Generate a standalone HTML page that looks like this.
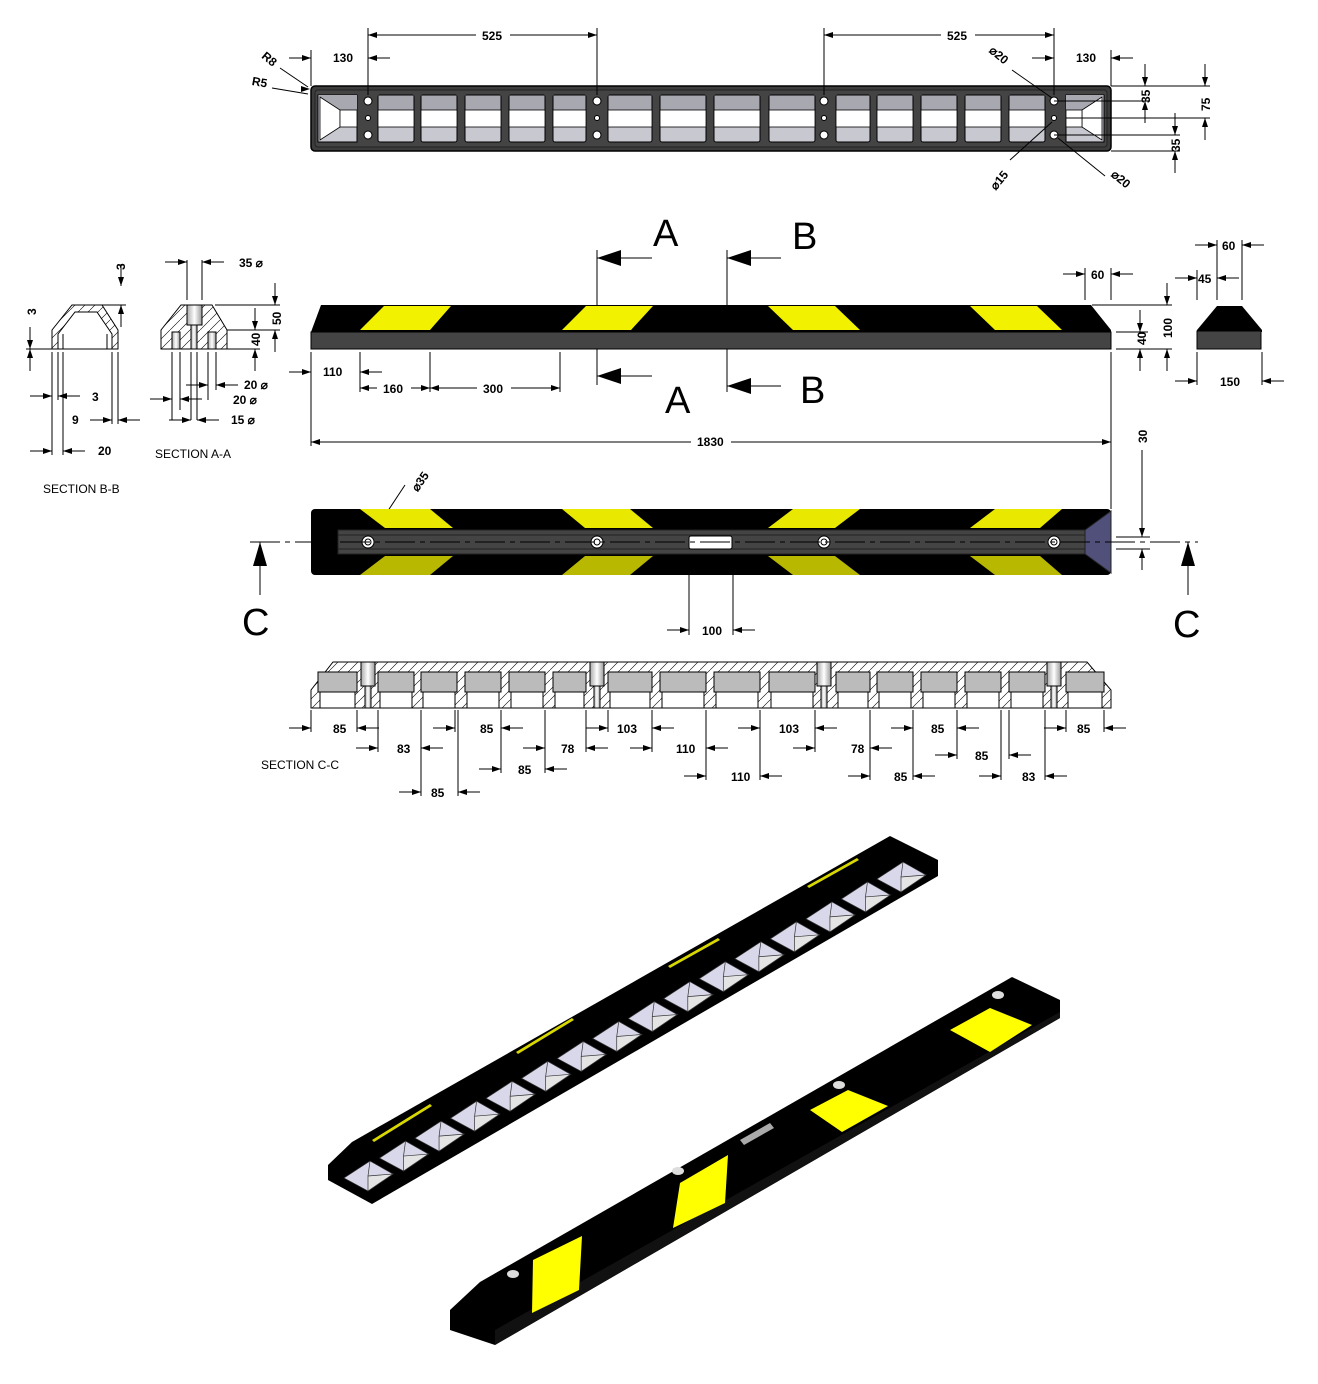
<!DOCTYPE html>
<html><head><meta charset="utf-8"><style>
html,body{margin:0;padding:0;background:#fff}
svg{display:block}
text{font-family:"Liberation Sans",sans-serif;font-size:12px;font-weight:bold;fill:#000}
.big{font-size:38px;font-weight:normal}
.lbl{font-size:12px;font-weight:normal}
</style></head><body>
<svg id="s" width="1318" height="1384" viewBox="0 0 1318 1384" xmlns="http://www.w3.org/2000/svg">
<defs>
<pattern id="hatch" width="10" height="10" patternUnits="userSpaceOnUse"><path d="M0 10 L10 0" stroke="#000" stroke-width="0.6"/></pattern>
<linearGradient id="cyl" x1="0" x2="1"><stop offset="0" stop-color="#aaa"/><stop offset="0.5" stop-color="#fff"/><stop offset="1" stop-color="#999"/></linearGradient>
</defs>

<rect x="311" y="86" width="800" height="65" rx="4" fill="#3c3c3c" stroke="#000" stroke-width="1.5"/>
<rect x="315" y="90" width="792" height="57" rx="3" fill="#444" stroke="#222" stroke-width="1"/>
<g id="topcells"></g>
<polygon points="318,95 357,95 357,142 318,142" fill="#c8c8d0" stroke="#000"/>
<polygon points="318,95 357,95 357,110 340,110" fill="#a8a8b0"/>
<polygon points="320,97 340,110 340,127 320,140" fill="#fff" stroke="#000" stroke-width="0.8"/>
<rect x="340" y="110" width="17" height="17" fill="#fff" stroke="#000" stroke-width="0.8"/>
<polygon points="1066,95 1104,95 1104,142 1066,142" fill="#c8c8d0" stroke="#000"/>
<polygon points="1066,95 1104,95 1082,110 1066,110" fill="#a8a8b0"/>
<polygon points="1102,97 1082,110 1082,127 1102,140" fill="#fff" stroke="#000" stroke-width="0.8"/>
<rect x="1066" y="110" width="16" height="17" fill="#fff" stroke="#000" stroke-width="0.8"/>
<g fill="#fff" stroke="#000" stroke-width="1">
<circle cx="368" cy="101" r="4"/><circle cx="368" cy="118" r="2.5"/><circle cx="368" cy="135" r="4"/>
<circle cx="597" cy="101" r="4"/><circle cx="597" cy="118" r="2.5"/><circle cx="597" cy="135" r="4"/>
<circle cx="824" cy="101" r="4"/><circle cx="824" cy="118" r="2.5"/><circle cx="824" cy="135" r="4"/>
<circle cx="1054" cy="101" r="4"/><circle cx="1054" cy="118" r="2.5"/><circle cx="1054" cy="135" r="4"/>
</g>
<g id="dims" stroke="#000" stroke-width="1" fill="none"></g>
<g id="arrows" fill="#000"></g>

<text x="482" y="40">525</text>
<text x="947" y="40">525</text>
<text x="333" y="62">130</text>
<text x="1076" y="62">130</text>
<text x="262" y="62" transform="rotate(40 268 58)">R8</text>
<text x="252" y="86" transform="rotate(10 258 82)">R5</text>
<text x="986" y="58" transform="rotate(40 996 58)">⌀20</text>
<text x="986" y="186" transform="rotate(-50 996 178)">⌀15</text>
<text x="1108" y="182" transform="rotate(40 1118 182)">⌀20</text>
<text x="1150" y="103" transform="rotate(-90 1150 103)">35</text>
<text x="1210" y="111" transform="rotate(-90 1210 111)">75</text>
<text x="1180" y="152" transform="rotate(-90 1180 152)">35</text>

<polygon points="311,332 321,305 1091,305 1111,330 1111,332" fill="#000"/>
<rect x="311" y="332" width="800" height="17" fill="#444" stroke="#000" stroke-width="1"/>
<g fill="#f2f200">
<polygon points="360,330 384,306 451,306 430,330"/>
<polygon points="562,330 586,306 653,306 631,330"/>
<polygon points="768,306 835,306 860,330 793,330"/>
<polygon points="970,306 1037,306 1062,330 995,330"/>
</g>
<text class="big" x="653" y="246">A</text>
<text class="big" x="792" y="249">B</text>
<text class="big" x="665" y="413">A</text>
<text class="big" x="800" y="403">B</text>
<text x="323" y="376">110</text>
<text x="383" y="393">160</text>
<text x="483" y="393">300</text>
<text x="697" y="446">1830</text>
<text x="1091" y="279">60</text>
<text x="1146" y="345" transform="rotate(-90 1146 345)">40</text>
<text x="1172" y="338" transform="rotate(-90 1172 338)">100</text>

<polygon points="1197,330 1217,306 1242,306 1262,330 1262,332 1197,332" fill="#000"/>
<rect x="1197" y="331" width="64" height="18" fill="#444" stroke="#000"/>
<text x="1222" y="250">60</text>
<text x="1198" y="283">45</text>
<text x="1220" y="386">150</text>

<g stroke="#000" stroke-width="1">
<polygon points="52,330 72,305 102,305 118,330 118,349 52,349" fill="url(#hatch)"/>
<polygon points="58,334 58,349 112,349 112,334 97,312 75,312" fill="#fff"/>
<line x1="63" y1="334" x2="63" y2="349"/><line x1="107" y1="334" x2="107" y2="349"/>
</g>
<text x="125" y="270" transform="rotate(-90 125 270)">3</text>
<text x="36" y="315" transform="rotate(-90 36 315)">3</text>
<text x="92" y="401">3</text>
<text x="72" y="424">9</text>
<text x="98" y="455">20</text>
<text class="lbl" x="43" y="493">SECTION B-B</text>

<g stroke="#000" stroke-width="1">
<polygon points="161,330 181,305 212,305 227,330 227,349 161,349" fill="url(#hatch)"/>
<rect x="187" y="305" width="15" height="20" fill="url(#cyl)"/>
<rect x="191" y="325" width="6" height="24" fill="url(#cyl)"/>
<rect x="172" y="332" width="8" height="17" fill="url(#cyl)"/>
<rect x="208" y="332" width="8" height="17" fill="url(#cyl)"/>
</g>
<text x="239" y="267">35 ⌀</text>
<text x="281" y="325" transform="rotate(-90 281 325)">50</text>
<text x="260" y="346" transform="rotate(-90 260 346)">40</text>
<text x="244" y="389">20 ⌀</text>
<text x="233" y="404">20 ⌀</text>
<text x="231" y="424">15 ⌀</text>
<text class="lbl" x="155" y="458">SECTION A-A</text>

<rect x="311" y="509" width="800" height="66" rx="4" fill="#000"/>
<g fill="#e8e800">
<polygon points="360,509 430,509 453,528 385,528"/>
<polygon points="562,509 630,509 653,528 585,528"/>
<polygon points="793,509 860,509 835,528 768,528"/>
<polygon points="995,509 1062,509 1040,528 970,528"/>
</g>
<g fill="#b8b800">
<polygon points="385,556 453,556 430,575 360,575"/>
<polygon points="585,556 653,556 630,575 562,575"/>
<polygon points="768,556 835,556 860,575 793,575"/>
<polygon points="970,556 1040,556 1062,575 995,575"/>
</g>
<rect x="338" y="530" width="747" height="24" fill="#444" stroke="#222"/>
<line x1="338" y1="535" x2="1085" y2="535" stroke="#222"/>
<line x1="338" y1="549" x2="1085" y2="549" stroke="#222"/>
<polygon points="1085,530 1111,511 1111,573 1085,554" fill="#50507a" stroke="#222"/>
<rect x="689" y="536" width="43" height="13" rx="2" fill="#fff" stroke="#000"/>
<g fill="#fff" stroke="#000"><circle cx="368" cy="542" r="6"/><circle cx="597" cy="542" r="6"/><circle cx="824" cy="542" r="6"/><circle cx="1054" cy="542" r="6"/></g>
<g fill="none" stroke="#000"><circle cx="368" cy="542" r="3"/><circle cx="597" cy="542" r="3"/><circle cx="824" cy="542" r="3"/><circle cx="1054" cy="542" r="3"/></g>
<line x1="250" y1="542" x2="1198" y2="542" stroke="#000" stroke-dasharray="30,5,5,5"/>
<text x="406" y="490" transform="rotate(-55 414 480)">⌀35</text>
<text class="big" x="242" y="635">C</text>
<text class="big" x="1173" y="637">C</text>
<text x="702" y="635">100</text>
<text x="1147" y="443" transform="rotate(-90 1147 443)">30</text>

<polygon points="311,708 311,690 333,662 1087,662 1111,690 1111,708" fill="url(#hatch)" stroke="#000"/>
<g id="cc"></g>
<text class="lbl" x="261" y="769">SECTION C-C</text>
<text x="333" y="733">85</text><text x="480" y="733">85</text><text x="617" y="733">103</text><text x="779" y="733">103</text><text x="931" y="733">85</text><text x="1077" y="733">85</text>
<text x="397" y="753">83</text><text x="561" y="753">78</text><text x="676" y="753">110</text><text x="851" y="753">78</text>
<text x="975" y="760">85</text><text x="518" y="774">85</text>
<text x="731" y="781">110</text><text x="894" y="781">85</text><text x="1022" y="781">83</text>
<text x="431" y="797">85</text>

<polygon points="328,1165 352,1142 890,836 938,860 938,876 372,1204 328,1180" fill="#000"/>
<g id="pyr"></g>
<g fill="#d8d800">
<polygon points="372,1140 430,1104 432,1106 374,1142"/>
<polygon points="516,1052 572,1018 574,1020 518,1054"/>
<polygon points="668,966 718,938 720,940 670,968"/>
<polygon points="807,886 857,858 859,860 809,888"/>
</g>
<polygon points="450,1310 480,1282 1012,977 1060,1000 1060,1018 495,1345 450,1330" fill="#000"/>
<polygon points="495,1330 1060,1012 1060,1018 495,1345" fill="#111"/>
<g fill="#ffff00">
<polygon points="533,1260 582,1236 579,1290 532,1313"/>
<polygon points="680,1183 728,1155 725,1203 673,1228"/>
<polygon points="810,1110 848,1090 888,1106 842,1132"/>
<polygon points="950,1030 990,1008 1032,1025 990,1052"/>
</g>
<polygon points="740,1140 770,1123 774,1128 744,1145" fill="#aaa"/>
<g fill="#ddd"><ellipse cx="513" cy="1274" rx="6" ry="4"/><ellipse cx="678" cy="1171" rx="6" ry="4"/><ellipse cx="839" cy="1085" rx="6" ry="4"/><ellipse cx="998" cy="995" rx="6" ry="4"/></g>
</svg>
<script>
var NS="http://www.w3.org/2000/svg";
function el(p,t,a){var e=document.createElementNS(NS,t);for(var k in a)e.setAttribute(k,a[k]);document.getElementById(p).appendChild(e);return e;}
var cells=[[378,414],[421,457],[465,501],[509,545],[553,586],[608,652],[660,706],[714,760],[769,815],[836,870],[877,913],[921,957],[965,1001],[1009,1045]];
cells.forEach(function(c){var w=c[1]-c[0];
el("topcells","rect",{x:c[0],y:95,width:w,height:47,rx:2,fill:"#c8c8d0",stroke:"#000"});
el("topcells","rect",{x:c[0]+0.5,y:95.5,width:w-1,height:15,fill:"#a8a8b0"});
el("topcells","rect",{x:c[0],y:110,width:w,height:17,fill:"#fff",stroke:"#000","stroke-width":0.8});
});
cells.concat([[318,357],[1066,1104]]).forEach(function(c){var w=c[1]-c[0];
el("cc","rect",{x:c[0],y:672,width:w,height:20,fill:"#bbb",stroke:"#000"});
el("cc","rect",{x:c[0]+2,y:692,width:w-4,height:16,fill:"#fff",stroke:"#000"});
});
[368,597,824,1054].forEach(function(x){
el("cc","rect",{x:x-7,y:662,width:14,height:24,fill:"url(#cyl)",stroke:"#000"});
el("cc","rect",{x:x-3,y:686,width:6,height:22,fill:"url(#cyl)",stroke:"#000"});
});
for(var i=0;i<16;i++){var t=i/15;var cx=372+t*(905-372),cy=1172+t*(873-1172);
el("pyr","polygon",{points:(cx-28)+","+(cy+6)+" "+(cx-2)+","+(cy-11)+" "+(cx+21)+","+(cy+2)+" "+(cx-4)+","+(cy+19),fill:"#d8d8ea",stroke:"#333","stroke-width":0.7});
el("pyr","polygon",{points:(cx-4)+","+(cy+4)+" "+(cx+21)+","+(cy+2)+" "+(cx-4)+","+(cy+19),fill:"#e4e4e4",stroke:"#333","stroke-width":0.7});
el("pyr","line",{x1:cx-2,y1:cy-11,x2:cx-4,y2:cy+4,stroke:"#333","stroke-width":0.7});
}
function L(x1,y1,x2,y2){el("dims","line",{x1:x1,y1:y1,x2:x2,y2:y2});}
function A(x,y,d,s,w){s=s||9;w=w||3;var p;if(d=="l")p=[x,y,x+s,y-w,x+s,y+w];else if(d=="r")p=[x,y,x-s,y-w,x-s,y+w];else if(d=="u")p=[x,y,x-w,y+s,x+w,y+s];else p=[x,y,x-w,y-s,x+w,y-s];el("arrows","polygon",{points:p.join(",")});}
function HD(x1,x2,y,tx,tw){L(x1,y,tx-4,y);L(tx+tw+4,y,x2,y);A(x1,y,"l");A(x2,y,"r");}
function HO(x1,x2,y){L(x1-22,y,x1,y);L(x2,y,x2+22,y);A(x1,y,"r");A(x2,y,"l");}
function VO(x,y1,y2){L(x,y1-22,x,y1);L(x,y2,x,y2+22);A(x,y1,"d");A(x,y2,"u");}
L(368,28,368,95);L(597,28,597,95);HD(368,597,35,480,26);
L(824,28,824,95);L(1054,28,1054,95);HD(824,1054,35,945,26);
L(311,50,311,86);HO(311,368,58);L(1111,50,1111,86);HO(1054,1111,58);
L(1111,86,1210,86);L(1066,118,1210,118);L(1111,151,1180,151);L(1054,101,1150,101);L(1054,135,1180,135);
VO(1145,86,101);VO(1205,86,118);VO(1175,135,151);
L(280,68,308,87);A(310,89,"r");L(272,88,308,94);
L(1012,70,1052,98);L(1010,160,1052,122);L(1105,176,1058,138);
L(597,250,597,385);L(727,250,727,392);
L(597,258,652,258);A(597,258,"l",24,8);L(727,258,781,258);A(727,258,"l",24,8);
L(597,376,652,376);A(597,376,"l",24,8);L(727,386,781,386);A(727,386,"l",24,8);
L(311,352,311,446);L(1111,352,1111,509);HD(311,1111,442,695,32);
HO(311,360,372);L(360,352,360,392);L(430,352,430,392);L(560,352,560,392);
HD(360,430,388,381,26);HD(430,560,388,481,26);
L(1085,268,1085,300);L(1111,268,1111,300);HO(1085,1111,274);
L(1092,305,1172,305);L(1116,332,1148,332);L(1116,349,1172,349);VO(1140,332,349);VO(1167,305,349);
L(1217,240,1217,300);L(1242,240,1242,300);HO(1217,1242,245);L(1197,270,1197,300);HO(1197,1217,278);
L(1197,352,1197,385);L(1262,352,1262,385);HO(1197,1262,381);
L(26,349,52,349);VO(30,349,349);L(96,305,126,305);VO(121,286,305);
L(52,352,52,455);L(58,352,58,400);L(63,352,63,455);L(112,352,112,424);L(118,352,118,424);
HO(52,58,396);HO(112,118,420);HO(52,63,451);
L(187,260,187,300);L(202,260,202,300);HO(187,202,262);
L(215,305,280,305);L(227,330,280,330);L(216,349,260,349);VO(275,305,330);VO(255,330,349);
L(172,352,172,420);L(180,352,180,410);L(191,352,191,420);L(197,352,197,420);L(208,352,208,400);L(216,352,216,390);
HO(208,216,385);HO(172,180,399);HO(191,197,420);
L(405,485,370,538);
L(260,542,260,595);A(260,542,"u",24,7);L(1188,542,1188,595);A(1188,542,"u",24,7);
L(689,575,689,635);L(733,575,733,635);HO(689,733,630);
L(1116,537,1150,537);L(1116,549,1150,549);L(1142,450,1142,537);A(1142,537,"d");L(1142,549,1142,570);A(1142,549,"u");
var rows=[[311,357,728],[455,501,728],[608,652,728],[760,815,728],[913,957,728],[1066,1104,728],
[378,421,748],[545,586,748],[652,706,748],[815,870,748],[957,1009,755],[501,545,769],[706,760,776],[870,913,776],[1001,1045,776],[421,458,792]];
rows.forEach(function(r){L(r[0],710,r[0],r[2]+4);L(r[1],710,r[1],r[2]+4);HO(r[0],r[1],r[2]);});
</script>
</body></html>
